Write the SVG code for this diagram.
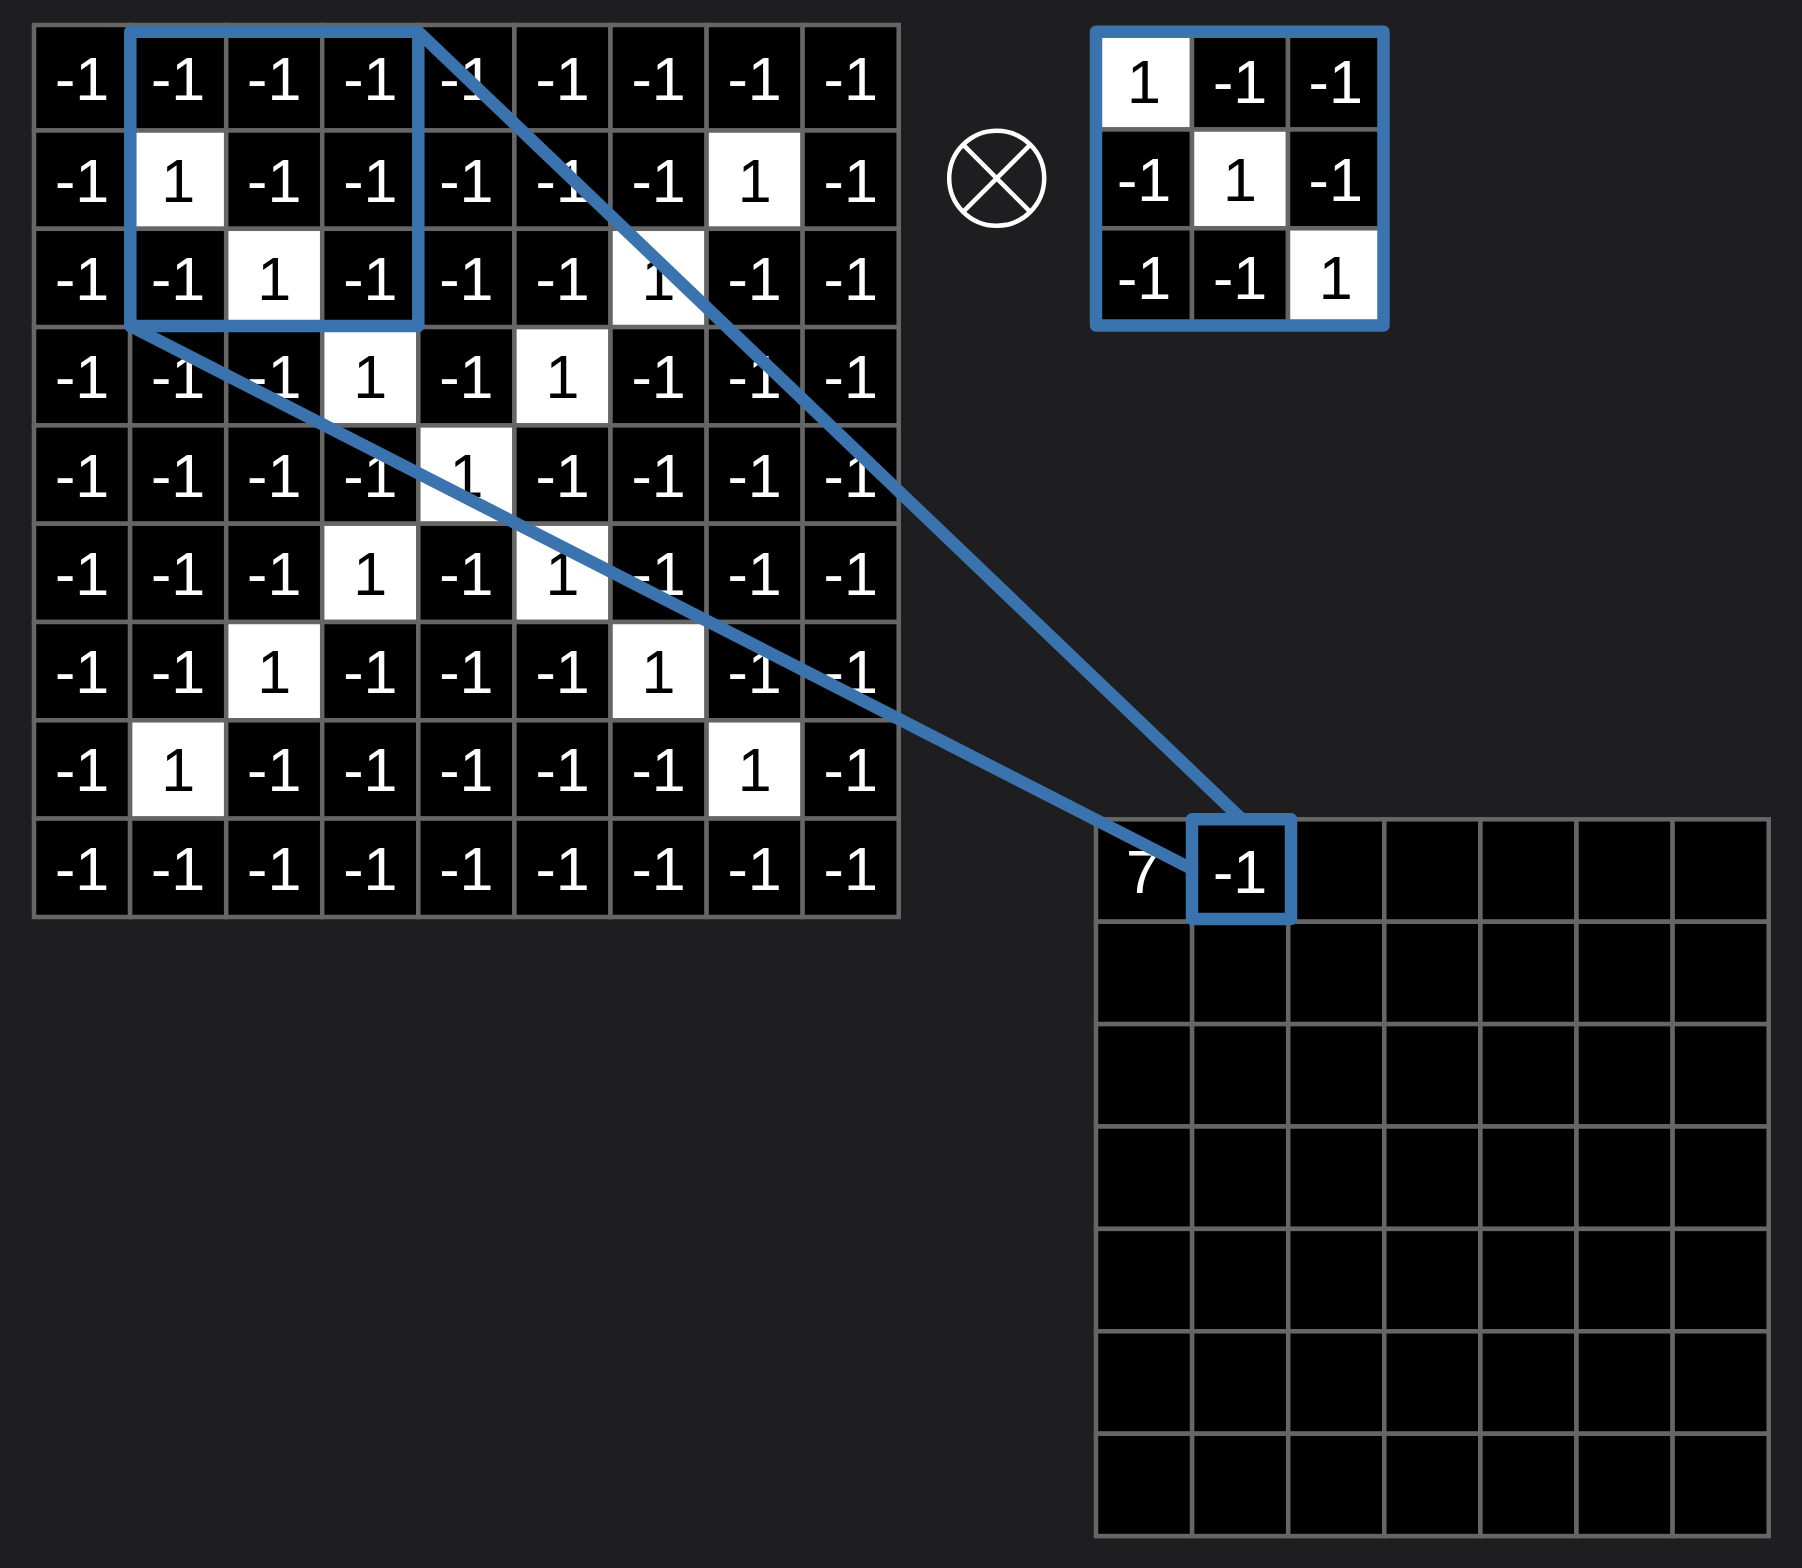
<svg xmlns="http://www.w3.org/2000/svg" width="1802" height="1568" viewBox="0 0 1802 1568">
<style>
.b{fill:#000;stroke:#666;stroke-width:4.5}
.w{fill:#fff;stroke:#666;stroke-width:4.5}
text{font-family:Arial, 'Liberation Sans', sans-serif;font-size:61px;text-anchor:middle}
.tw{fill:#fff}
.tb{fill:#000}
.hl{fill:none;stroke:#3a73ad;stroke-width:12.5;stroke-linejoin:round}
.cn{stroke:#3a73ad;stroke-width:12.5;stroke-linecap:butt;fill:none}
</style>
<rect x="0" y="0" width="1802" height="1568" fill="#1e1e20"/>
<g id="input-grid">
<rect class="b" x="34" y="25" width="96.1" height="105.5"/><rect class="b" x="130.1" y="25" width="96.1" height="105.5"/><rect class="b" x="226.2" y="25" width="96.1" height="105.5"/><rect class="b" x="322.2" y="25" width="96.1" height="105.5"/><rect class="b" x="418.3" y="25" width="96.1" height="105.5"/><rect class="b" x="514.4" y="25" width="96.1" height="105.5"/><rect class="b" x="610.5" y="25" width="96.1" height="105.5"/><rect class="b" x="706.6" y="25" width="96.1" height="105.5"/><rect class="b" x="802.6" y="25" width="96.1" height="105.5"/>
<rect class="b" x="34" y="130.5" width="96.1" height="98.3"/><rect class="w" x="130.1" y="130.5" width="96.1" height="98.3"/><rect class="b" x="226.2" y="130.5" width="96.1" height="98.3"/><rect class="b" x="322.2" y="130.5" width="96.1" height="98.3"/><rect class="b" x="418.3" y="130.5" width="96.1" height="98.3"/><rect class="b" x="514.4" y="130.5" width="96.1" height="98.3"/><rect class="b" x="610.5" y="130.5" width="96.1" height="98.3"/><rect class="w" x="706.6" y="130.5" width="96.1" height="98.3"/><rect class="b" x="802.6" y="130.5" width="96.1" height="98.3"/>
<rect class="b" x="34" y="228.8" width="96.1" height="98.3"/><rect class="b" x="130.1" y="228.8" width="96.1" height="98.3"/><rect class="w" x="226.2" y="228.8" width="96.1" height="98.3"/><rect class="b" x="322.2" y="228.8" width="96.1" height="98.3"/><rect class="b" x="418.3" y="228.8" width="96.1" height="98.3"/><rect class="b" x="514.4" y="228.8" width="96.1" height="98.3"/><rect class="w" x="610.5" y="228.8" width="96.1" height="98.3"/><rect class="b" x="706.6" y="228.8" width="96.1" height="98.3"/><rect class="b" x="802.6" y="228.8" width="96.1" height="98.3"/>
<rect class="b" x="34" y="327.1" width="96.1" height="98.3"/><rect class="b" x="130.1" y="327.1" width="96.1" height="98.3"/><rect class="b" x="226.2" y="327.1" width="96.1" height="98.3"/><rect class="w" x="322.2" y="327.1" width="96.1" height="98.3"/><rect class="b" x="418.3" y="327.1" width="96.1" height="98.3"/><rect class="w" x="514.4" y="327.1" width="96.1" height="98.3"/><rect class="b" x="610.5" y="327.1" width="96.1" height="98.3"/><rect class="b" x="706.6" y="327.1" width="96.1" height="98.3"/><rect class="b" x="802.6" y="327.1" width="96.1" height="98.3"/>
<rect class="b" x="34" y="425.4" width="96.1" height="98.3"/><rect class="b" x="130.1" y="425.4" width="96.1" height="98.3"/><rect class="b" x="226.2" y="425.4" width="96.1" height="98.3"/><rect class="b" x="322.2" y="425.4" width="96.1" height="98.3"/><rect class="w" x="418.3" y="425.4" width="96.1" height="98.3"/><rect class="b" x="514.4" y="425.4" width="96.1" height="98.3"/><rect class="b" x="610.5" y="425.4" width="96.1" height="98.3"/><rect class="b" x="706.6" y="425.4" width="96.1" height="98.3"/><rect class="b" x="802.6" y="425.4" width="96.1" height="98.3"/>
<rect class="b" x="34" y="523.7" width="96.1" height="98.3"/><rect class="b" x="130.1" y="523.7" width="96.1" height="98.3"/><rect class="b" x="226.2" y="523.7" width="96.1" height="98.3"/><rect class="w" x="322.2" y="523.7" width="96.1" height="98.3"/><rect class="b" x="418.3" y="523.7" width="96.1" height="98.3"/><rect class="w" x="514.4" y="523.7" width="96.1" height="98.3"/><rect class="b" x="610.5" y="523.7" width="96.1" height="98.3"/><rect class="b" x="706.6" y="523.7" width="96.1" height="98.3"/><rect class="b" x="802.6" y="523.7" width="96.1" height="98.3"/>
<rect class="b" x="34" y="622" width="96.1" height="98.3"/><rect class="b" x="130.1" y="622" width="96.1" height="98.3"/><rect class="w" x="226.2" y="622" width="96.1" height="98.3"/><rect class="b" x="322.2" y="622" width="96.1" height="98.3"/><rect class="b" x="418.3" y="622" width="96.1" height="98.3"/><rect class="b" x="514.4" y="622" width="96.1" height="98.3"/><rect class="w" x="610.5" y="622" width="96.1" height="98.3"/><rect class="b" x="706.6" y="622" width="96.1" height="98.3"/><rect class="b" x="802.6" y="622" width="96.1" height="98.3"/>
<rect class="b" x="34" y="720.3" width="96.1" height="98.3"/><rect class="w" x="130.1" y="720.3" width="96.1" height="98.3"/><rect class="b" x="226.2" y="720.3" width="96.1" height="98.3"/><rect class="b" x="322.2" y="720.3" width="96.1" height="98.3"/><rect class="b" x="418.3" y="720.3" width="96.1" height="98.3"/><rect class="b" x="514.4" y="720.3" width="96.1" height="98.3"/><rect class="b" x="610.5" y="720.3" width="96.1" height="98.3"/><rect class="w" x="706.6" y="720.3" width="96.1" height="98.3"/><rect class="b" x="802.6" y="720.3" width="96.1" height="98.3"/>
<rect class="b" x="34" y="818.6" width="96.1" height="98.4"/><rect class="b" x="130.1" y="818.6" width="96.1" height="98.4"/><rect class="b" x="226.2" y="818.6" width="96.1" height="98.4"/><rect class="b" x="322.2" y="818.6" width="96.1" height="98.4"/><rect class="b" x="418.3" y="818.6" width="96.1" height="98.4"/><rect class="b" x="514.4" y="818.6" width="96.1" height="98.4"/><rect class="b" x="610.5" y="818.6" width="96.1" height="98.4"/><rect class="b" x="706.6" y="818.6" width="96.1" height="98.4"/><rect class="b" x="802.6" y="818.6" width="96.1" height="98.4"/>
<g class="tw">
<text x="82" y="100">-1</text><text x="178.1" y="100">-1</text><text x="274.2" y="100">-1</text><text x="370.3" y="100">-1</text><text x="466.4" y="100">-1</text><text x="562.5" y="100">-1</text><text x="658.5" y="100">-1</text><text x="754.6" y="100">-1</text><text x="850.7" y="100">-1</text>
<text x="82" y="202">-1</text><text x="274.2" y="202">-1</text><text x="370.3" y="202">-1</text><text x="466.4" y="202">-1</text><text x="562.5" y="202">-1</text><text x="658.5" y="202">-1</text><text x="850.7" y="202">-1</text>
<text x="82" y="300">-1</text><text x="178.1" y="300">-1</text><text x="370.3" y="300">-1</text><text x="466.4" y="300">-1</text><text x="562.5" y="300">-1</text><text x="754.6" y="300">-1</text><text x="850.7" y="300">-1</text>
<text x="82" y="398">-1</text><text x="178.1" y="398">-1</text><text x="274.2" y="398">-1</text><text x="466.4" y="398">-1</text><text x="658.5" y="398">-1</text><text x="754.6" y="398">-1</text><text x="850.7" y="398">-1</text>
<text x="82" y="497">-1</text><text x="178.1" y="497">-1</text><text x="274.2" y="497">-1</text><text x="370.3" y="497">-1</text><text x="562.5" y="497">-1</text><text x="658.5" y="497">-1</text><text x="754.6" y="497">-1</text><text x="850.7" y="497">-1</text>
<text x="82" y="595">-1</text><text x="178.1" y="595">-1</text><text x="274.2" y="595">-1</text><text x="466.4" y="595">-1</text><text x="658.5" y="595">-1</text><text x="754.6" y="595">-1</text><text x="850.7" y="595">-1</text>
<text x="82" y="693">-1</text><text x="178.1" y="693">-1</text><text x="370.3" y="693">-1</text><text x="466.4" y="693">-1</text><text x="562.5" y="693">-1</text><text x="754.6" y="693">-1</text><text x="850.7" y="693">-1</text>
<text x="82" y="791">-1</text><text x="274.2" y="791">-1</text><text x="370.3" y="791">-1</text><text x="466.4" y="791">-1</text><text x="562.5" y="791">-1</text><text x="658.5" y="791">-1</text><text x="850.7" y="791">-1</text>
<text x="82" y="890">-1</text><text x="178.1" y="890">-1</text><text x="274.2" y="890">-1</text><text x="370.3" y="890">-1</text><text x="466.4" y="890">-1</text><text x="562.5" y="890">-1</text><text x="658.5" y="890">-1</text><text x="754.6" y="890">-1</text><text x="850.7" y="890">-1</text>
</g>
<g class="tb">
<text x="178.1" y="202">1</text><text x="754.6" y="202">1</text>
<text x="274.2" y="300">1</text><text x="658.5" y="300">1</text>
<text x="370.3" y="398">1</text><text x="562.5" y="398">1</text>
<text x="466.4" y="497">1</text>
<text x="370.3" y="595">1</text><text x="562.5" y="595">1</text>
<text x="274.2" y="693">1</text><text x="658.5" y="693">1</text>
<text x="178.1" y="791">1</text><text x="754.6" y="791">1</text>
</g>
</g>
<g id="operator">
<circle cx="996.7" cy="178.3" r="47.5" fill="none" stroke="#fff" stroke-width="4.5"/>
<line x1="963.1" y1="144.7" x2="1030.3" y2="211.9" stroke="#fff" stroke-width="4.5"/>
<line x1="1030.3" y1="144.7" x2="963.1" y2="211.9" stroke="#fff" stroke-width="4.5"/>
</g>
<g id="kernel">
<rect class="w" x="1096" y="31.7" width="96" height="97.8"/><rect class="b" x="1192" y="31.7" width="96" height="97.8"/><rect class="b" x="1288" y="31.7" width="95.5" height="97.8"/>
<rect class="b" x="1096" y="129.5" width="96" height="98.8"/><rect class="w" x="1192" y="129.5" width="96" height="98.8"/><rect class="b" x="1288" y="129.5" width="95.5" height="98.8"/>
<rect class="b" x="1096" y="228.3" width="96" height="97.2"/><rect class="b" x="1192" y="228.3" width="96" height="97.2"/><rect class="w" x="1288" y="228.3" width="95.5" height="97.2"/>
<text class="tb" x="1144" y="103">1</text><text class="tw" x="1240" y="103">-1</text><text class="tw" x="1335.7" y="103">-1</text>
<text class="tw" x="1144" y="201">-1</text><text class="tb" x="1240" y="201">1</text><text class="tw" x="1335.7" y="201">-1</text>
<text class="tw" x="1144" y="299">-1</text><text class="tw" x="1240" y="299">-1</text><text class="tb" x="1335.7" y="299">1</text>
<rect class="hl" x="1096" y="31.7" width="287.5" height="293.8"/>
</g>
<g id="output-grid">
<rect class="b" x="1096" y="819.3" width="96.1" height="102.4"/><rect class="b" x="1192.1" y="819.3" width="96.1" height="102.4"/><rect class="b" x="1288.2" y="819.3" width="96.1" height="102.4"/><rect class="b" x="1384.3" y="819.3" width="96.1" height="102.4"/><rect class="b" x="1480.4" y="819.3" width="96.1" height="102.4"/><rect class="b" x="1576.5" y="819.3" width="96.1" height="102.4"/><rect class="b" x="1672.6" y="819.3" width="96.1" height="102.4"/>
<rect class="b" x="1096" y="921.7" width="96.1" height="102.4"/><rect class="b" x="1192.1" y="921.7" width="96.1" height="102.4"/><rect class="b" x="1288.2" y="921.7" width="96.1" height="102.4"/><rect class="b" x="1384.3" y="921.7" width="96.1" height="102.4"/><rect class="b" x="1480.4" y="921.7" width="96.1" height="102.4"/><rect class="b" x="1576.5" y="921.7" width="96.1" height="102.4"/><rect class="b" x="1672.6" y="921.7" width="96.1" height="102.4"/>
<rect class="b" x="1096" y="1024.1" width="96.1" height="102.4"/><rect class="b" x="1192.1" y="1024.1" width="96.1" height="102.4"/><rect class="b" x="1288.2" y="1024.1" width="96.1" height="102.4"/><rect class="b" x="1384.3" y="1024.1" width="96.1" height="102.4"/><rect class="b" x="1480.4" y="1024.1" width="96.1" height="102.4"/><rect class="b" x="1576.5" y="1024.1" width="96.1" height="102.4"/><rect class="b" x="1672.6" y="1024.1" width="96.1" height="102.4"/>
<rect class="b" x="1096" y="1126.5" width="96.1" height="102.4"/><rect class="b" x="1192.1" y="1126.5" width="96.1" height="102.4"/><rect class="b" x="1288.2" y="1126.5" width="96.1" height="102.4"/><rect class="b" x="1384.3" y="1126.5" width="96.1" height="102.4"/><rect class="b" x="1480.4" y="1126.5" width="96.1" height="102.4"/><rect class="b" x="1576.5" y="1126.5" width="96.1" height="102.4"/><rect class="b" x="1672.6" y="1126.5" width="96.1" height="102.4"/>
<rect class="b" x="1096" y="1228.9" width="96.1" height="102.4"/><rect class="b" x="1192.1" y="1228.9" width="96.1" height="102.4"/><rect class="b" x="1288.2" y="1228.9" width="96.1" height="102.4"/><rect class="b" x="1384.3" y="1228.9" width="96.1" height="102.4"/><rect class="b" x="1480.4" y="1228.9" width="96.1" height="102.4"/><rect class="b" x="1576.5" y="1228.9" width="96.1" height="102.4"/><rect class="b" x="1672.6" y="1228.9" width="96.1" height="102.4"/>
<rect class="b" x="1096" y="1331.3" width="96.1" height="102.4"/><rect class="b" x="1192.1" y="1331.3" width="96.1" height="102.4"/><rect class="b" x="1288.2" y="1331.3" width="96.1" height="102.4"/><rect class="b" x="1384.3" y="1331.3" width="96.1" height="102.4"/><rect class="b" x="1480.4" y="1331.3" width="96.1" height="102.4"/><rect class="b" x="1576.5" y="1331.3" width="96.1" height="102.4"/><rect class="b" x="1672.6" y="1331.3" width="96.1" height="102.4"/>
<rect class="b" x="1096" y="1433.7" width="96.1" height="102.4"/><rect class="b" x="1192.1" y="1433.7" width="96.1" height="102.4"/><rect class="b" x="1288.2" y="1433.7" width="96.1" height="102.4"/><rect class="b" x="1384.3" y="1433.7" width="96.1" height="102.4"/><rect class="b" x="1480.4" y="1433.7" width="96.1" height="102.4"/><rect class="b" x="1576.5" y="1433.7" width="96.1" height="102.4"/><rect class="b" x="1672.6" y="1433.7" width="96.1" height="102.4"/>
<text class="tw" x="1143" y="892.5">7</text>
<text class="tw" x="1240" y="892.5">-1</text>
</g>
<g id="connectors">
<rect id="input-window" class="hl" x="130.3" y="31.7" width="288" height="294.3"/>
<line class="cn" x1="418.3" y1="31.7" x2="1241.5" y2="819"/>
<line class="cn" x1="130.3" y1="326" x2="1192" y2="869"/>
<rect id="output-cell" class="hl" x="1192" y="819.2" width="99" height="99.8"/>
</g>
</svg>
